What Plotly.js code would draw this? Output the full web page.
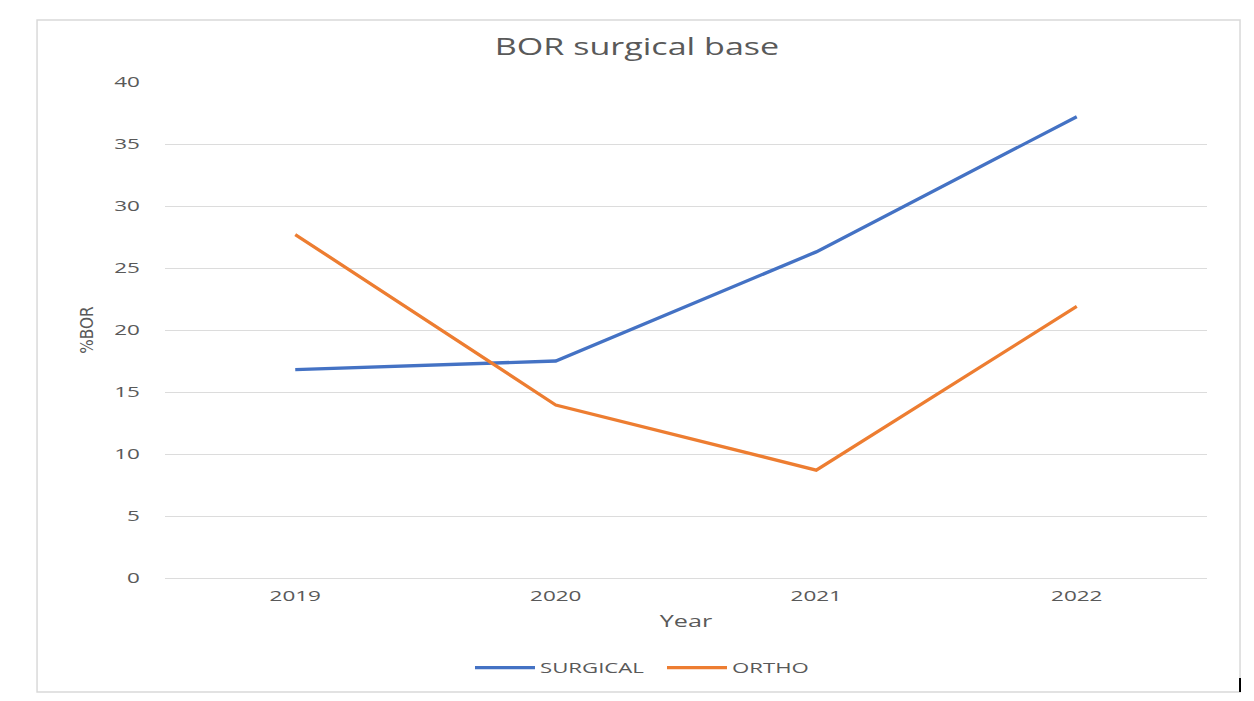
<!DOCTYPE html>
<html>
<head>
<meta charset="utf-8">
<script src="https://cdn.plot.ly/plotly-3.0.1.min.js"></script>
<style>
html,body{margin:0;padding:0;background:#fff;}
#chart{width:1254px;height:701px;}
</style>
</head>
<body>
<div id="chart"></div>
<script>
const years = ["2019", "2020", "2021", "2022"];
const surgical = [16.8, 17.5, 26.3, 37.2];
const ortho = [27.7, 13.95, 8.7, 21.9];
const yTicks = [0, 5, 10, 15, 20, 25, 30, 35, 40];

const font = "'Open Sans', 'Noto Sans', sans-serif";
const grey = "#595959";

const traces = [
  {x: years, y: surgical, name: "SURGICAL", type: "scatter", mode: "lines",
   line: {color: "#4472C4", width: 3.3}},
  {x: years, y: ortho, name: "ORTHO", type: "scatter", mode: "lines",
   line: {color: "#ED7D31", width: 3.3}}
];

const layout = {
  width: 1254, height: 701,
  margin: {l: 165, r: 47, t: 82, b: 123},
  paper_bgcolor: "#fff", plot_bgcolor: "#fff",
  title: {text: "BOR surgical base", x: 0.508, xanchor: "center", y: 0.933, yanchor: "middle",
          font: {family: font, size: 24, color: grey}},
  xaxis: {
    type: "category", range: [-0.5, 3.5], showgrid: false, zeroline: false, showline: false,
    ticks: "", tickfont: {family: font, size: 15, color: grey}, ticklabelstandoff: 7,
    title: {text: "Year", font: {family: font, size: 17, color: grey}, standoff: 11}
  },
  yaxis: {
    range: [0, 40], tickvals: yTicks, showgrid: true, gridcolor: "#DCDCDC", gridwidth: 1,
    zeroline: true, zerolinecolor: "#DCDCDC", zerolinewidth: 1, showline: false, ticks: "",
    ticklabelstandoff: 24,
    tickfont: {family: font, size: 15, color: grey},
    title: {text: "%BOR", font: {family: "'DejaVu Sans Condensed', 'Liberation Sans Narrow', sans-serif", size: 17, color: grey}, standoff: 24}
  },
  showlegend: true,
  legend: {orientation: "h", x: 0.2927, xanchor: "left", y: -0.181, yanchor: "middle",
           font: {family: font, size: 15, color: grey}, itemwidth: 60, entrywidth: 117,
           tracegroupgap: 0, bgcolor: "rgba(0,0,0,0)"},
  shapes: [
    {type: "rect", xref: "paper", yref: "paper", x0: -0.1228, x1: 1.0317, y0: -0.2298, y1: 1.125,
     line: {color: "#D9D9D9", width: 1.5}, fillcolor: "rgba(0,0,0,0)", layer: "below"},
    {type: "line", xref: "paper", yref: "paper", x0: 1.0317, x1: 1.0317, y0: -0.2298, y1: -0.2016,
     line: {color: "#000", width: 2}}
  ]
};

// The reference image is horizontally stretched; widen its text glyphs the same way.
function stretch(sel, k) {
  document.querySelectorAll("#chart " + sel).forEach(function (t) {
    const x = parseFloat(t.getAttribute("x")) || 0;
    const tr = t.getAttribute("transform") || "";
    t.setAttribute("transform", tr + " translate(" + x + ",0) scale(" + k + ",1) translate(" + (-x) + ",0)");
  });
}

Plotly.newPlot("chart", traces, layout, {displayModeBar: false, staticPlot: true}).then(function () {
  stretch(".gtitle", 1.42);
  stretch(".xtick text", 1.5);
  stretch(".ytick text", 1.5);
  stretch(".xtitle", 1.48);
  stretch(".legendtext", 1.48);
});
</script>
</body>
</html>
